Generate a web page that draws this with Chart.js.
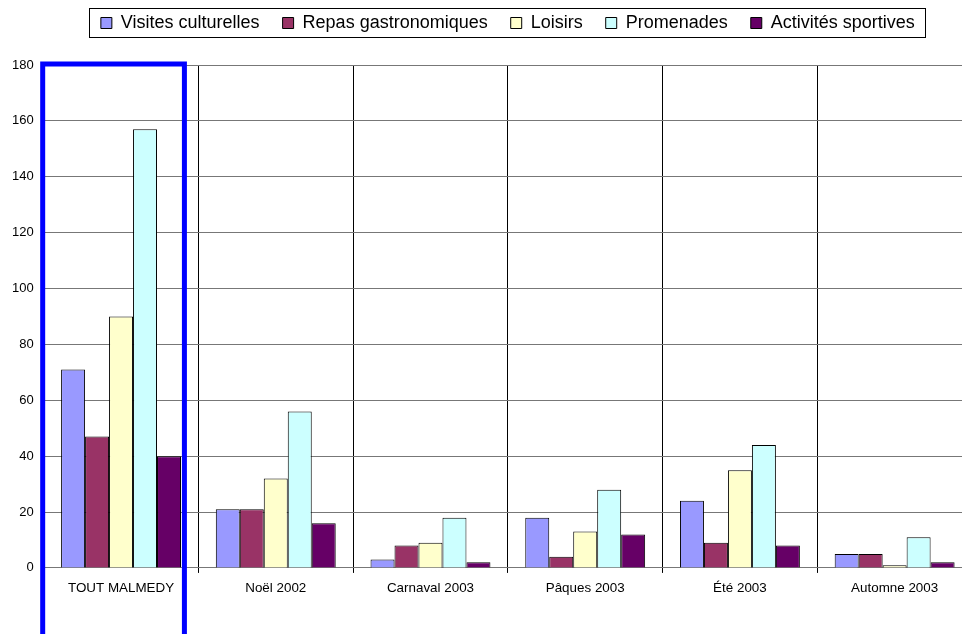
<!DOCTYPE html>
<html lang="fr">
<head>
<meta charset="utf-8">
<title>Activités par période</title>
<script src="https://cdn.jsdelivr.net/npm/chart.js@4.4.1/dist/chart.umd.min.js"></script>
<style>
  html, body { margin: 0; padding: 0; background: #fff; overflow: hidden; }
  .chart-box { width: 975px; height: 634px; position: relative; }
</style>
</head>
<body>
<div class="chart-box"><canvas id="activitesChart"></canvas></div>
<script>
/* ───────── Données ─────── */
const categories  = ['TOUT MALMEDY', 'Noël 2002', 'Carnaval 2003', 'Pâques 2003', 'Été 2003', 'Automne 2003'];
const visites     = [71, 21, 3, 18, 24, 5];
const repas       = [47, 21, 8, 4, 9, 5];
const loisirs     = [90, 32, 9, 13, 35, 1];
const promenades  = [157, 56, 18, 28, 44, 11];
const sportives   = [40, 16, 2, 12, 8, 2];
const yMin = 0, yMax = 180, yStep = 20;

const FONT = 'Liberation Sans, Arial, sans-serif';

/* ───────── Légende: remonter + cadre ─────── */
const legendFrame = {
  id: 'legendFrame',
  afterLayout(chart) {
    const lg = chart.legend;
    if (!lg) return;
    const h = lg.bottom - lg.top;
    lg.top = -9;                  // items at top + padding
    lg.bottom = lg.top + h;
  },
  afterDraw(chart) {
    const boxes = chart.legend && chart.legend.legendHitBoxes;
    if (!boxes || !boxes.length) return;
    const first = boxes[0], last = boxes[boxes.length - 1];
    const ctx = chart.ctx;
    ctx.save();
    ctx.strokeStyle = '#000';
    ctx.lineWidth = 1;
    const x1 = Math.round(first.left - 12) + 0.5;
    const x2 = Math.round(last.left + last.width + 10) + 0.5;
    const y1 = Math.round(first.top - 6) + 0.5;
    const y2 = Math.round(first.top + first.height + 5) + 0.5;
    ctx.strokeRect(x1, y1, x2 - x1, y2 - y1);
    ctx.restore();
  }
};

/* ───────── Cadre bleu autour de TOUT MALMEDY ─────── */
const blueFrame = {
  id: 'blueFrame',
  afterDraw(chart) {
    const x = chart.scales.x;
    const area = chart.chartArea;
    const c0 = x.getPixelForValue(0);
    const w = (area.right - area.left) / categories.length;
    const ctx = chart.ctx;
    ctx.save();
    ctx.strokeStyle = '#0000FF';
    ctx.lineWidth = 5;
    ctx.strokeRect(c0 - w / 2 - 1, area.top - 1, w - 13, chart.height + 20);
    ctx.restore();
  }
};

const serie = (label, data, color) => ({
  label, data,
  backgroundColor: color,
  borderColor: '#000',
  borderWidth: 1,
  categoryPercentage: 0.775,
  barPercentage: 1
});

new Chart(document.getElementById('activitesChart'), {
  type: 'bar',
  data: {
    labels: categories,
    datasets: [
      serie('Visites culturelles', visites, '#9999FF'),
      serie('Repas gastronomiques', repas, '#993366'),
      serie('Loisirs', loisirs, '#FFFFCC'),
      serie('Promenades', promenades, '#CCFFFF'),
      serie('Activités sportives', sportives, '#660066')
    ]
  },
  options: {
    responsive: true,
    maintainAspectRatio: false,
    animation: false,
    layout: { padding: { top: 14, left: 2, right: 3, bottom: 31 } },
    plugins: {
      legend: {
        position: 'top',
        fullSize: false,
        labels: {
          boxWidth: 11,
          boxHeight: 11,
          padding: 23,
          color: '#000',
          font: { family: FONT, size: 18 }
        }
      },
      tooltip: { enabled: false }
    },
    scales: {
      x: {
        offset: true,
        grid: { offset: true, color: '#000', lineWidth: 1, tickLength: 5 },
        border: { color: '#777' },
        ticks: { color: '#000', padding: 7, font: { family: FONT, size: 13.4 } }
      },
      y: {
        min: yMin,
        max: yMax,
        grid: { color: '#777', lineWidth: 1, drawTicks: false },
        border: { display: false },
        ticks: { stepSize: yStep, color: '#000', padding: 10, font: { family: FONT, size: 13 } }
      }
    }
  },
  plugins: [legendFrame, blueFrame]
});
</script>
</body>
</html>
